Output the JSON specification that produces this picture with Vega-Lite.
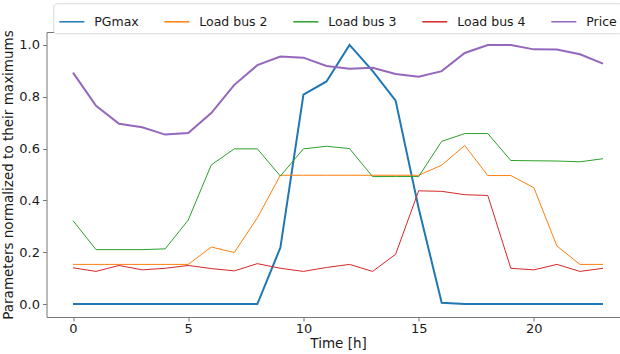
{
  "$schema": "https://vega.github.io/schema/vega-lite/v6.json",
  "width": 583,
  "height": 285,
  "autosize": {"type": "none"},
  "padding": {"left": 46.5, "top": 32, "right": -9.5, "bottom": 37},
  "background": "white",
  "config": {
    "font": "DejaVu Sans",
    "view": {"stroke": "#777777", "strokeWidth": 1},
    "axis": {
      "domain": false,
      "grid": false,
      "tickColor": "#777777",
      "tickSize": 4,
      "labelFont": "DejaVu Sans",
      "labelFontSize": 13,
      "labelColor": "#1a1a1a",
      "titleFont": "DejaVu Sans",
      "titleFontSize": 13.5,
      "titleFontWeight": "normal",
      "titleColor": "#1a1a1a"
    }
  },
  "data": {
    "values": [
      {"t": 0, "PGmax": 0, "Load bus 2": 0.153, "Load bus 3": 0.322, "Load bus 4": 0.140, "Price": 0.893},
      {"t": 1, "PGmax": 0, "Load bus 2": 0.153, "Load bus 3": 0.210, "Load bus 4": 0.126, "Price": 0.765},
      {"t": 2, "PGmax": 0, "Load bus 2": 0.153, "Load bus 3": 0.210, "Load bus 4": 0.149, "Price": 0.696},
      {"t": 3, "PGmax": 0, "Load bus 2": 0.153, "Load bus 3": 0.210, "Load bus 4": 0.132, "Price": 0.682},
      {"t": 4, "PGmax": 0, "Load bus 2": 0.153, "Load bus 3": 0.213, "Load bus 4": 0.138, "Price": 0.654},
      {"t": 5, "PGmax": 0, "Load bus 2": 0.153, "Load bus 3": 0.324, "Load bus 4": 0.149, "Price": 0.660},
      {"t": 6, "PGmax": 0, "Load bus 2": 0.220, "Load bus 3": 0.537, "Load bus 4": 0.137, "Price": 0.737},
      {"t": 7, "PGmax": 0, "Load bus 2": 0.199, "Load bus 3": 0.599, "Load bus 4": 0.128, "Price": 0.846},
      {"t": 8, "PGmax": 0, "Load bus 2": 0.333, "Load bus 3": 0.599, "Load bus 4": 0.156, "Price": 0.922},
      {"t": 9, "PGmax": 0.218, "Load bus 2": 0.497, "Load bus 3": 0.494, "Load bus 4": 0.138, "Price": 0.955},
      {"t": 10, "PGmax": 0.808, "Load bus 2": 0.497, "Load bus 3": 0.599, "Load bus 4": 0.126, "Price": 0.951},
      {"t": 11, "PGmax": 0.859, "Load bus 2": 0.497, "Load bus 3": 0.609, "Load bus 4": 0.141, "Price": 0.919},
      {"t": 12, "PGmax": 1.0, "Load bus 2": 0.497, "Load bus 3": 0.600, "Load bus 4": 0.153, "Price": 0.908},
      {"t": 13, "PGmax": 0.900, "Load bus 2": 0.497, "Load bus 3": 0.492, "Load bus 4": 0.126, "Price": 0.912},
      {"t": 14, "PGmax": 0.785, "Load bus 2": 0.497, "Load bus 3": 0.492, "Load bus 4": 0.192, "Price": 0.888},
      {"t": 15, "PGmax": 0.370, "Load bus 2": 0.497, "Load bus 3": 0.492, "Load bus 4": 0.437, "Price": 0.877},
      {"t": 16, "PGmax": 0.005, "Load bus 2": 0.536, "Load bus 3": 0.628, "Load bus 4": 0.435, "Price": 0.899},
      {"t": 17, "PGmax": 0, "Load bus 2": 0.612, "Load bus 3": 0.658, "Load bus 4": 0.422, "Price": 0.969},
      {"t": 18, "PGmax": 0, "Load bus 2": 0.496, "Load bus 3": 0.658, "Load bus 4": 0.419, "Price": 1.0},
      {"t": 19, "PGmax": 0, "Load bus 2": 0.496, "Load bus 3": 0.554, "Load bus 4": 0.138, "Price": 1.0},
      {"t": 20, "PGmax": 0, "Load bus 2": 0.449, "Load bus 3": 0.553, "Load bus 4": 0.132, "Price": 0.983},
      {"t": 21, "PGmax": 0, "Load bus 2": 0.224, "Load bus 3": 0.552, "Load bus 4": 0.153, "Price": 0.982},
      {"t": 22, "PGmax": 0, "Load bus 2": 0.153, "Load bus 3": 0.549, "Load bus 4": 0.126, "Price": 0.964},
      {"t": 23, "PGmax": 0, "Load bus 2": 0.153, "Load bus 3": 0.561, "Load bus 4": 0.138, "Price": 0.928}
    ]
  },
  "transform": [
    {"fold": ["PGmax", "Load bus 2", "Load bus 3", "Load bus 4", "Price"], "as": ["series", "value"]}
  ],
  "mark": {"type": "line", "clip": true},
  "encoding": {
    "x": {
      "field": "t",
      "type": "quantitative",
      "scale": {"domain": [-1.15, 24.15], "nice": false, "zero": false},
      "axis": {"values": [0, 5, 10, 15, 20], "title": "Time [h]", "labelPadding": 1, "titlePadding": 1, "labelFlush": false}
    },
    "y": {
      "field": "value",
      "type": "quantitative",
      "scale": {"domain": [-0.05, 1.05], "nice": false, "zero": false},
      "axis": {"values": [0, 0.2, 0.4, 0.6, 0.8, 1.0], "format": ".1f", "title": "Parameters normalized to their maximums", "labelPadding": 3, "titlePadding": 3}
    },
    "color": {
      "field": "series",
      "type": "nominal",
      "scale": {
        "domain": ["PGmax", "Load bus 2", "Load bus 3", "Load bus 4", "Price"],
        "range": ["#1f77b4", "#ff7f0e", "#2ca02c", "#d62728", "#9467bd"]
      },
      "legend": {
        "title": null,
        "orient": "none",
        "direction": "horizontal",
        "legendX": 6.8,
        "legendY": -28.7,
        "symbolType": "stroke",
        "symbolSize": 625,
        "symbolStrokeWidth": 1.5,
        "labelFont": "DejaVu Sans",
        "labelFontSize": 12.5,
        "labelColor": "#1a1a1a",
        "labelOffset": 9,
        "columnPadding": 22,
        "padding": 5,
        "strokeColor": "#d9d9d9",
        "fillColor": "white",
        "cornerRadius": 3
      }
    },
    "strokeWidth": {
      "condition": {"test": "datum.series === 'PGmax' || datum.series === 'Price'", "value": 2},
      "value": 1
    },
    "order": {"field": "t", "type": "quantitative"}
  }
}
